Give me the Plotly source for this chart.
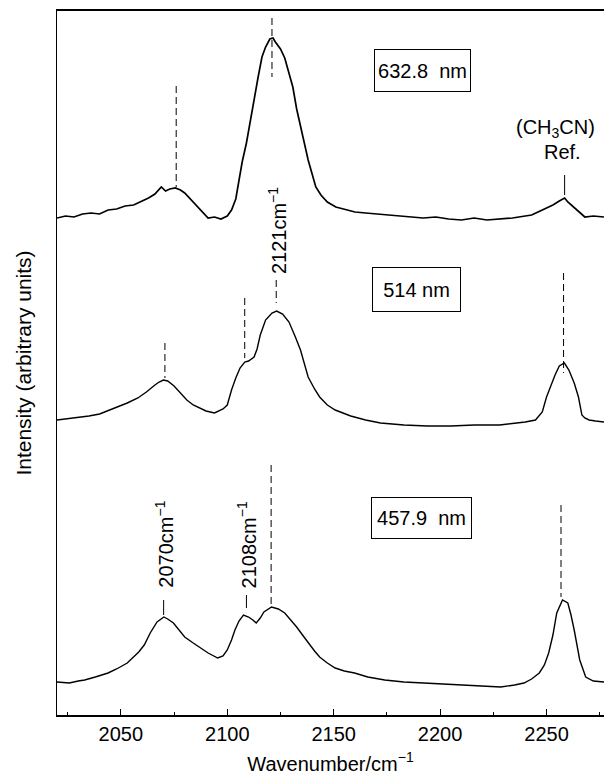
import plotly.graph_objects as go

# ---- data (wavenumber in cm^-1, intensity in arbitrary units, stacked) ----
wn_633 = [2020, 2024, 2028, 2032, 2036, 2040, 2044, 2048, 2052, 2056, 2060, 2063, 2066, 2069, 2071,
          2073, 2075.6, 2078, 2080, 2083, 2086, 2089, 2091, 2094, 2097, 2100, 2102, 2104, 2105.5,
          2107, 2109, 2111, 2112.6, 2114.5, 2116.3, 2118, 2120, 2121.5, 2122.6, 2125, 2127, 2129,
          2130.8, 2132.6, 2134.4, 2136, 2138, 2140, 2141.6, 2144, 2147, 2151, 2156, 2160, 2165,
          2170, 2174, 2180, 2186, 2192, 2198, 2204, 2210, 2216, 2222, 2228, 2234, 2240, 2243,
          2246, 2250, 2253, 2256, 2258.5, 2260, 2262, 2265, 2268, 2272, 2277]
int_633 = [497, 499, 498, 501, 502, 501, 505, 506, 509, 510, 514, 517, 521, 528, 524,
           526, 527, 525, 522, 515, 508, 502, 497, 498, 496, 499, 505, 516, 535,
           553, 572, 597, 615, 638, 658, 668, 676, 677, 673, 666, 657, 643,
           628, 606, 588, 572, 555, 540, 528, 520, 513, 508, 505, 503, 502,
           501, 500, 499, 498, 497, 498, 496, 495, 497, 495, 496, 497, 499, 500,
           503, 507, 510, 514, 517, 513, 509, 503, 498, 499, 498]

wn_514 = [2020, 2028, 2035, 2040, 2045, 2050, 2053, 2058, 2062, 2066, 2068, 2070, 2072, 2075,
          2078, 2081, 2084, 2087, 2090, 2094, 2098, 2100, 2102, 2104, 2106, 2108.2, 2110, 2112.6,
          2114, 2115.5, 2118, 2121, 2123.2, 2126, 2129, 2132, 2134.4, 2138, 2141, 2143.4, 2147,
          2150.7, 2155, 2158, 2165, 2172, 2183, 2194, 2205, 2216, 2228, 2236, 2240, 2244.8,
          2248, 2250, 2252, 2254, 2256, 2258.4, 2260.5, 2263, 2265, 2266.6, 2268, 2270, 2273, 2277]
int_514 = [295, 297, 299, 301, 305, 309, 312, 317, 323, 330, 333, 335, 334, 329,
           322, 315, 310, 307, 304, 302, 306, 310, 325, 337, 347, 353, 354, 358,
           366, 380, 395, 402, 404, 401, 393, 378, 365, 338, 326, 318, 310,
           305, 301, 299, 295, 292, 290, 289, 289, 290, 290, 292, 293, 295,
           303, 318, 330, 340, 349, 352, 345, 332, 318, 300, 297, 295, 294, 293]

wn_458 = [2020, 2025.8, 2030, 2033, 2038, 2044, 2048, 2053, 2058.4, 2061, 2063.8, 2067, 2070.2,
          2072, 2074.7, 2077, 2080, 2084, 2087.3, 2091, 2095.5, 2098, 2100, 2102, 2103.6, 2105.5,
          2107.6, 2110, 2112, 2113.6, 2115.5, 2117.2, 2120.8, 2124, 2127, 2130, 2132.6, 2135,
          2138, 2141, 2143.4, 2147, 2150.7, 2155, 2159.8, 2166, 2174, 2183, 2192.3, 2200, 2210,
          2220, 2228.5, 2235, 2239.4, 2243, 2246.6, 2249, 2251, 2253, 2254.8, 2257.5, 2260, 2261.5,
          2263, 2265.6, 2268.4, 2272, 2277]
int_458 = [33, 32, 34, 35, 38, 42, 46, 52, 63, 70, 82, 93, 98,
           96, 92, 86, 78, 72, 67, 62, 57, 59, 65, 75, 85, 94,
           100, 98, 95, 92, 97, 103, 108, 106, 102, 95, 88, 81,
           72, 64, 58, 52, 47, 44, 42, 38, 35, 33, 32, 31, 30,
           29, 28, 30, 32, 36, 42, 50, 62, 80, 102, 115, 112, 100,
           85, 55, 38, 34, 33]

# peak markers: wavenumber, start, end, style
mark_wn = [2076, 2121, 2258.5, 2070.7, 2108.2, 2123, 2258, 2120.6, 2070.1, 2109, 2256.8]
mark_y0 = [629, 697, 540, 372, 417, 435, 442, 250, 115, 120, 210]
mark_y1 = [528, 638, 520, 337, 357, 412, 342, 108, 100, 107, 118]
mark_dash = ["d", "d", "s", "d", "d", "d", "d", "d", "s", "s", "d"]

# text labels
label_text = ["2121cm<sup>−1</sup>", "2070cm<sup>−1</sup>", "2108cm<sup>−1</sup>",
              "(CH<sub>3</sub>CN)", "Ref."]
label_wn = [2123.4, 2070.1, 2109, 2254, 2257.3]
label_y = [484, 171, 170, 587, 563]
label_angle = [-90, -90, -90, 0, 0]

box_text = ["632.8\u00a0\u00a0nm", "514 nm", "457.9\u00a0\u00a0nm"]
box_wn = [2191.8, 2189, 2191.3]
box_y = [644.5, 425.5, 197]
box_w = [95, 87, 99]
box_h = [41, 43, 40]

FONT = "Liberation Sans, Arial, Helvetica, sans-serif"
FS = 20

fig = go.Figure()
for wn, val, lw in [(wn_633, int_633, 1.7), (wn_514, int_514, 1.4), (wn_458, int_458, 1.4)]:
    fig.add_trace(go.Scatter(x=wn, y=val, mode="lines",
                             line=dict(color="black", width=lw),
                             showlegend=False, hoverinfo="skip"))

for xw, y0, y1, d in zip(mark_wn, mark_y0, mark_y1, mark_dash):
    fig.add_shape(type="line", xref="x", yref="y", x0=xw, x1=xw, y0=y0, y1=y1,
                  line=dict(color="black", width=1,
                            dash="7px,4px" if d == "d" else "solid"))

for t, xw, yv, a in zip(label_text, label_wn, label_y, label_angle):
    fig.add_annotation(x=xw, y=yv, xref="x", yref="y", text=t, showarrow=False,
                       textangle=a, xanchor="center", yanchor="middle",
                       font=dict(family=FONT, size=FS, color="black"))

for t, xw, yv, w, h in zip(box_text, box_wn, box_y, box_w, box_h):
    fig.add_annotation(x=xw, y=yv, xref="x", yref="y", text=t, showarrow=False,
                       xanchor="center", yanchor="middle", width=w, height=h,
                       bordercolor="black", borderwidth=1, borderpad=0,
                       bgcolor="white",
                       font=dict(family=FONT, size=FS, color="black"))

fig.update_layout(
    width=604, height=776,
    margin=dict(l=57, r=0, t=11, b=61),
    paper_bgcolor="white", plot_bgcolor="white",
    font=dict(family=FONT, size=FS, color="black"),
    xaxis=dict(range=[2020, 2277], showgrid=False, zeroline=False,
               showline=True, linecolor="black", linewidth=1.6, mirror=True,
               ticks="inside", ticklen=6, tickwidth=1.2, tickcolor="black",
               dtick=50, tick0=2000,
               minor=dict(dtick=25, ticks="inside", ticklen=3, tickcolor="black", tickwidth=1),
               tickfont=dict(family=FONT, size=FS),
               title=dict(text="Wavenumber/cm<sup>−1</sup>", standoff=13,
                          font=dict(family=FONT, size=FS))),
    yaxis=dict(range=[0, 704], showgrid=False, zeroline=False,
               showline=True, linecolor="black", linewidth=1.4, mirror=False,
               showticklabels=False, ticks="",
               title=dict(text="Intensity (arbitrary units)", standoff=18,
                          font=dict(family=FONT, size=21))),
)

fig.write_html("out.html", config={"displayModeBar": False},
               post_script="document.body.style.margin='0';document.body.style.padding='0';")
